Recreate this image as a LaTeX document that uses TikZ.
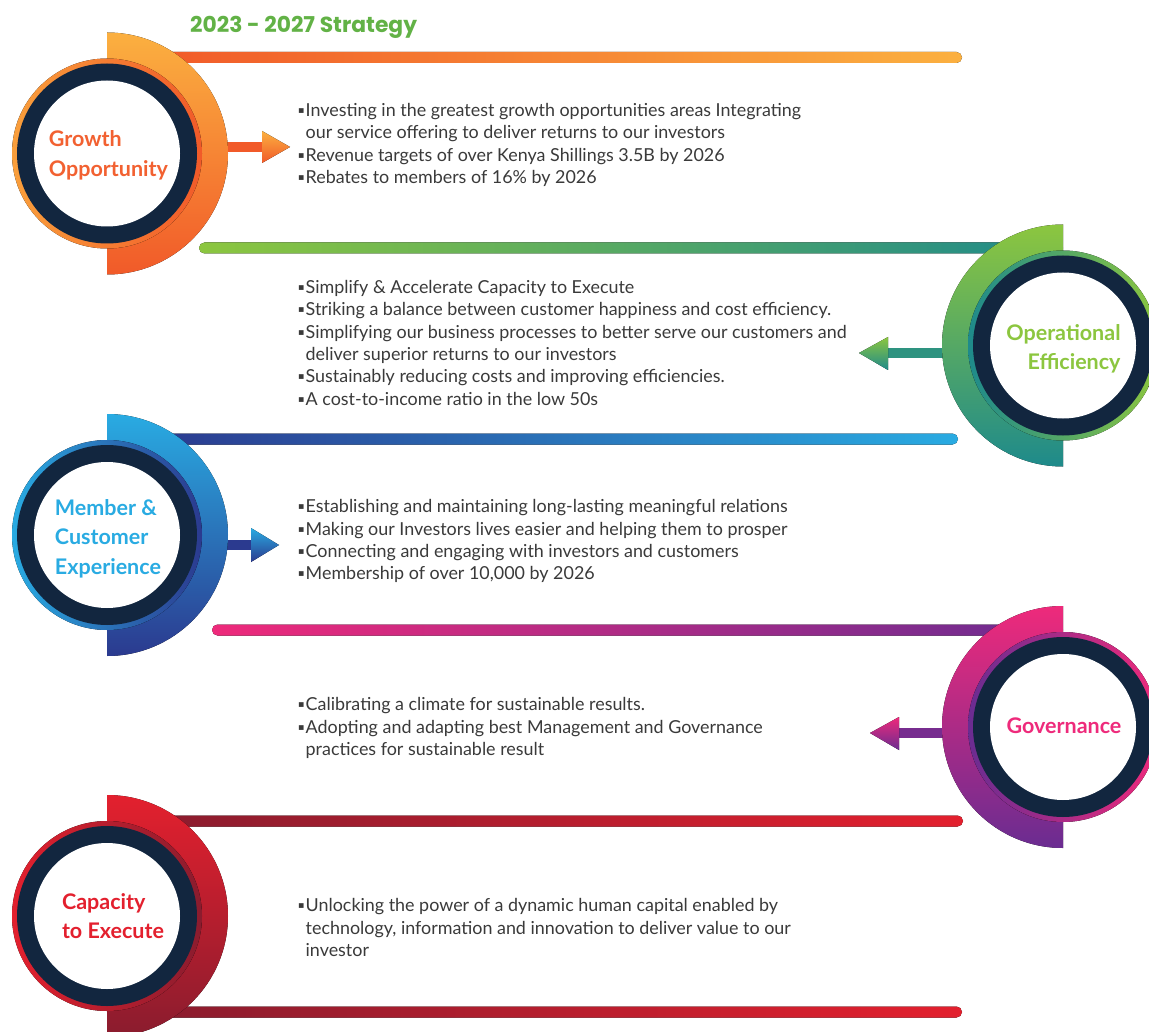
\documentclass[tikz,border=0pt]{standalone}
\usepackage{fontspec}
\setmainfont{Lato}
\newfontfamily\symfont{DejaVu Sans}
\newfontfamily\headfont{Poppins}

% palette
\definecolor{navy}{HTML}{12263F}
\definecolor{bodygray}{HTML}{3A3A3A}
\definecolor{titlegreen}{HTML}{62B246}
\definecolor{orLight}{HTML}{FBB040}
\definecolor{orDark}{HTML}{F15A29}
\definecolor{orText}{HTML}{F26131}
\definecolor{gnLight}{HTML}{8CC63F}
\definecolor{gnDark}{HTML}{1E8A8B}
\definecolor{blLight}{HTML}{29ABE2}
\definecolor{blDark}{HTML}{2B3A8F}
\definecolor{pkLight}{HTML}{EE2A7B}
\definecolor{pkDark}{HTML}{6A2C91}
\definecolor{rdLight}{HTML}{E3202E}
\definecolor{rdDark}{HTML}{8A1C2E}

% bullet and hanging indent for the item lists
\newcommand\itm{\makebox[7.5pt][l]{\raisebox{3pt}{\symfont\fontsize{9.5}{9.5}\selectfont ▪}}}
\newcommand\cnt{\hspace*{7.5pt}}
\newcommand\firstline{\rule{0pt}{16pt}}

\tikzset{
  bodytext/.style={anchor=north west, inner sep=0pt, align=left, text=bodygray,
    font=\fontsize{17.9}{22.3}\selectfont},
  labeltext/.style={inner sep=0pt, font=\bfseries\fontsize{21.5}{29.5}\selectfont},
  whitedisc/.style={circle, fill=white, minimum size=146pt, inner sep=0pt},
  navydisc/.style={fill=navy},
  bar/.style={rounded corners=5.5pt},
}

\begin{document}
\begin{tikzpicture}[x=1pt, y=-1pt]
\useasboundingbox (0,0) rectangle (1149,1032);
\fill[white] (0,0) rectangle (1149,1032);

% ---------- horizontal bars ----------
\fill[bar, left color=orDark, right color=orLight] (150,52) rectangle (962,63);
\fill[bar, left color=gnLight, right color=gnDark] (199,242.5) rectangle (1063,253.5);
\fill[bar, left color=blDark, right color=blLight] (150,433.5) rectangle (958,444.5);
\fill[bar, left color=pkLight, right color=pkDark] (212,624.5) rectangle (1063,635.5);
\fill[bar, left color=rdDark, right color=rdLight] (150,815.5) rectangle (963,826.5);
\fill[bar, left color=rdDark, right color=rdLight] (150,1006.5) rectangle (962,1017.5);

% ---------- pointers ----------
% growth
\fill[orDark] (210,142) rectangle (263,152);
\fill[top color=orLight, bottom color=orDark] (262,131) -- (290,147) -- (262,163) -- cycle;
% operational efficiency
\fill[gnDark!85!gnLight] (887,348) rectangle (960,358);
\fill[top color=gnLight, bottom color=gnDark] (888,337) -- (859,353) -- (888,370) -- cycle;
% member & customer experience
\fill[blDark] (210,540) rectangle (252,550);
\fill[top color=blLight, bottom color=blDark] (251,528) -- (279,545) -- (251,562) -- cycle;
% governance
\fill[pkDark!90!pkLight] (898,728) rectangle (960,738);
\fill[top color=pkLight, bottom color=pkDark] (899,717) -- (870,733) -- (899,750) -- cycle;

% ---------- half discs ----------
\fill[top color=orLight, bottom color=orDark] (107,32.5) arc[start angle=-90, end angle=90, radius=121] -- cycle;
\fill[top color=gnLight, bottom color=gnDark] (1063,224.5) arc[start angle=-90, end angle=-270, radius=121] -- cycle;
\fill[top color=blLight, bottom color=blDark] (107,414) arc[start angle=-90, end angle=90, radius=121] -- cycle;
\fill[top color=pkLight, bottom color=pkDark] (1063,606) arc[start angle=-90, end angle=-270, radius=121] -- cycle;
\fill[top color=rdLight, bottom color=rdDark] (107,795) arc[start angle=-90, end angle=90, radius=121] -- cycle;

% ---------- rings ----------
\fill[left color=orLight!80!orDark, right color=orDark] (107,153.5) circle[radius=95];
\fill[left color=gnDark, right color=gnLight] (1063,345.5) circle[radius=95];
\fill[left color=blLight, right color=blDark] (107,535) circle[radius=95];
\fill[left color=pkDark, right color=pkLight] (1063,727) circle[radius=95];
\fill[left color=rdLight, right color=rdDark] (107,916) circle[radius=95];

\fill[navydisc] (107,153.5) circle[radius=90];
\fill[navydisc] (1063,345.5) circle[radius=90];
\fill[navydisc] (107,535) circle[radius=90];
\fill[navydisc] (1063,727) circle[radius=90];
\fill[navydisc] (107,916) circle[radius=90];

\node[whitedisc] (growth) at (107,153.5) {};
\node[whitedisc] (operational) at (1063,345.5) {};
\node[whitedisc] (member) at (107,535) {};
\node[whitedisc] (governance) at (1063,727) {};
\node[whitedisc] (capacity) at (107,916) {};

% ---------- circle labels ----------
\node[labeltext, text=orText, align=left] (growthlbl) at ([xshift=1.5pt, yshift=-2pt]growth.center) {Growth\\Opportunity};
\node[labeltext, text=gnLight, align=right] (operationallbl) at ([xshift=0.5pt, yshift=-3.5pt]operational.center) {Operational\\Efficiency};
\node[labeltext, text=blLight, align=left] (memberlbl) at ([xshift=1pt, yshift=-3.5pt]member.center) {Member \&\\Customer\\Experience};
\node[labeltext, text=pkLight] (governancelbl) at ([xshift=1pt, yshift=1pt]governance.center) {Governance};
\node[labeltext, text=rdLight, align=left] (capacitylbl) at ([xshift=6pt]capacity.center) {Capacity\\to Execute};

% ---------- title ----------
\node[anchor=base west, inner sep=0pt, text=titlegreen, font=\headfont\bfseries\fontsize{21.8}{26}\selectfont] (title) at (190,32.5) {2023 - 2027 Strategy};

% ---------- item lists ----------
\node[bodytext] (growthtxt) at (298,100.5) {\firstline\itm Investing in the greatest growth opportunities areas Integrating\\
\cnt our service offering to deliver returns to our investors\\
\itm Revenue targets of over Kenya Shillings 3.5B by 2026\\
\itm Rebates to members of 16\% by 2026};

\node[bodytext] (operationaltxt) at (298,277.5) {\firstline\itm Simplify \& Accelerate Capacity to Execute\\
\itm Striking a balance between customer happiness and cost efficiency.\\
\itm Simplifying our business processes to better serve our customers and\\
\cnt deliver superior returns to our investors\\
\itm Sustainably reducing costs and improving efficiencies.\\
\itm A cost-to-income ratio in the low 50s};

\node[bodytext] (membertxt) at (298,496.5) {\firstline\itm Establishing and maintaining long-lasting meaningful relations\\
\itm Making our Investors lives easier and helping them to prosper\\
\itm Connecting and engaging with investors and customers\\
\itm Membership of over 10,000 by 2026};

\node[bodytext] (governancetxt) at (298,694.5) {\firstline\itm Calibrating a climate for sustainable results.\\
\itm Adopting and adapting best Management and Governance\\
\cnt practices for sustainable result};

\node[bodytext] (capacitytxt) at (298,895.5) {\firstline\itm Unlocking the power of a dynamic human capital enabled by\\
\cnt technology, information and innovation to deliver value to our\\
\cnt investor};
\end{tikzpicture}
\end{document}
